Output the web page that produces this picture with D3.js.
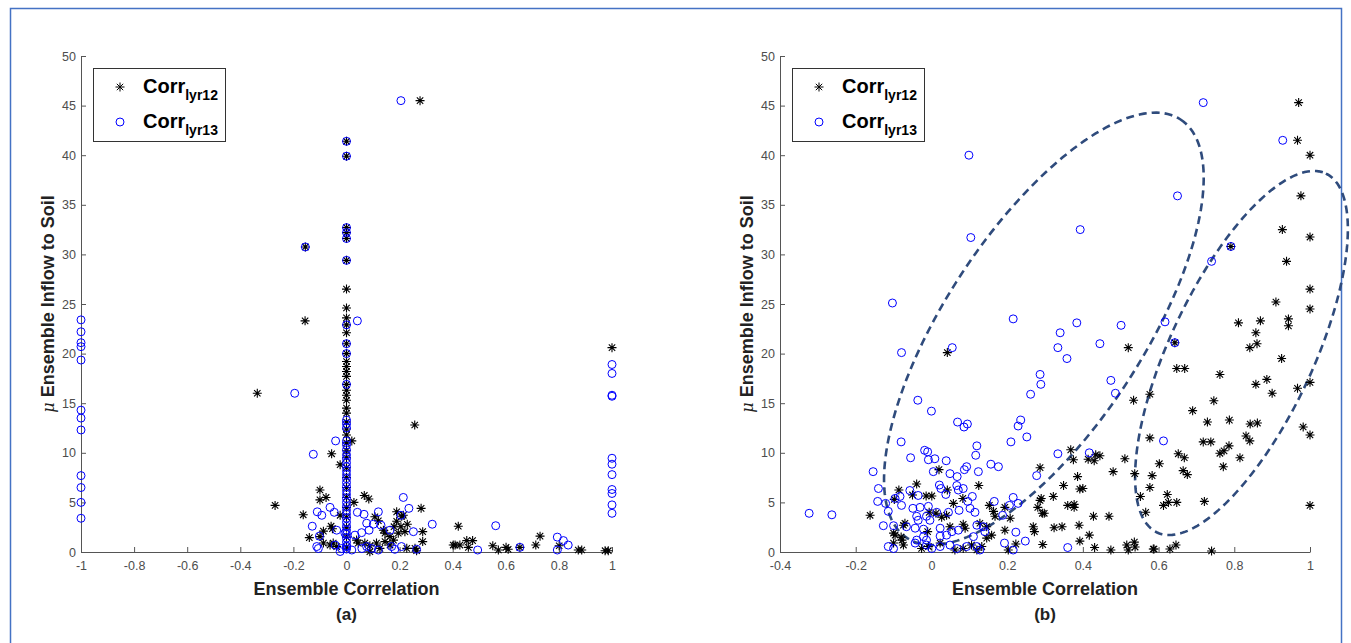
<!DOCTYPE html>
<html>
<head>
<meta charset="utf-8">
<script src="https://cdn.jsdelivr.net/npm/d3@7"></script>
<style>
  body { margin: 0; background: #fff; }
  svg { display: block; font-family: "Liberation Sans", Arial, Helvetica, sans-serif; }
</style>
</head>
<body>
<div id="chart"></div>
<script>
// ---- data ----
const seriesNames = ['lyr12', 'lyr13'];
const panelLabels = ['(a)', '(b)'];
const xLabel = 'Ensemble Correlation';
const yLabel = ' Ensemble Inflow to Soil';
const yTicks = [0, 5, 10, 15, 20, 25, 30, 35, 40, 45, 50];
const xTicksA = [-1, -0.8, -0.6, -0.4, -0.2, 0, 0.2, 0.4, 0.6, 0.8, 1];
const xTicksB = [-0.4, -0.2, 0, 0.2, 0.4, 0.6, 0.8, 1];

// panel (a): columns of points sitting at corr = 0, -1, 1
const aZeroStarY = [41.4, 39.9, 32.7, 32.2, 31.6, 29.4, 26.5, 24.6, 23.6, 22.9, 22.1, 21.0, 20.0, 19.2,
  18.7, 18.2, 17.7, 16.9, 16.3, 15.8, 15.3, 14.5, 14.0, 13.1, 12.4, 11.8, 11.0, 10.2, 9.5, 8.5, 7.5,
  6.5, 5.5, 4.5, 3.5, 2.5, 1.5, 0.5];
const aZeroCircleY = [41.4, 39.9, 32.7, 32.2, 31.6, 29.4, 22.9, 21.0, 20.0, 16.9, 13.3, 12.9, 12.5,
  11.2, 10.8, 10.3, 9.8, 9.4, 9.0, 8.6, 8.2, 7.8, 7.4, 7.0, 6.6, 6.2, 5.8, 5.4, 5.0, 4.6, 4.2, 3.8,
  3.4, 3.0, 2.6, 2.2, 1.8, 1.4, 1.0, 0.6, 0.3];
const aMinusOneCircleY = [23.4, 22.2, 21.1, 20.7, 19.35, 14.3, 13.5, 12.3, 7.7, 6.5, 5.0, 3.4];
const aOneCircleY = [18.9, 18.0, 15.8, 15.7, 9.45, 8.85, 7.8, 6.3, 5.9, 4.75, 3.9];

const aStars = [[0.277, 45.5], [-0.155, 30.75], [-0.156, 23.3], [-0.336, 16.0], [0.257, 12.8],
  [-0.269, 4.7], [-0.056, 9.9], [-0.024, 8.8], [0.02, 11.2], [-0.1, 6.25], [-0.1, 5.25], [-0.077, 5.5],
  [0.067, 5.7], [0.084, 5.35], [0.028, 5.0], [0.281, 4.4], [-0.163, 3.75], [-0.024, 3.7], [0.107, 3.55],
  [0.12, 3.15], [0.189, 4.05], [0.208, 3.6], [0.214, 3.7], [0.189, 3.1], [0.229, 2.8], [0.205, 2.55],
  [0.179, 2.55], [-0.087, 2.1], [-0.058, 2.6], [-0.053, 2.35], [-0.14, 1.45], [-0.1, 1.55], [0.139, 2.2],
  [0.145, 1.9], [0.164, 1.55], [0.195, 1.9], [0.22, 2.05], [0.287, 2.05], [0.287, 1.05], [0.421, 2.6],
  [-0.087, 0.9], [-0.062, 0.7], [-0.05, 0.9], [-0.037, 0.55], [0.038, 1.2], [0.044, 0.9], [0.069, 0.9],
  [0.088, 0.63], [0.113, 0.9], [0.126, 0.37], [0.145, 1.05], [0.164, 0.7], [0.177, 1.2], [0.227, 0.37],
  [0.258, 0.37], [0.264, 0.13], [0.409, 0.7], [0.088, 0.03], [1.0, 20.6], [0.402, 0.7], [0.427, 0.7],
  [0.453, 1.15], [0.475, 1.15], [0.459, 0.47], [0.551, 0.63], [0.572, 0.2], [0.601, 0.47], [0.609, 0.27],
  [0.653, 0.47], [0.713, 0.7], [0.729, 1.6], [0.801, 0.63], [0.873, 0.2], [0.886, 0.2], [0.974, 0.13],
  [0.986, 0.13]];
const aCircles = [[0.205, 45.5], [-0.155, 30.75], [0.041, 23.3], [-0.195, 16.0], [-0.125, 9.85],
  [-0.041, 11.2], [0.214, 5.5], [0.235, 4.4], [-0.11, 4.05], [-0.093, 3.7], [-0.062, 4.5], [-0.046, 4.0],
  [0.041, 4.0], [0.066, 3.8], [0.12, 4.05], [0.076, 2.9], [0.101, 2.8], [0.13, 2.7], [0.085, 2.2],
  [0.205, 3.7], [0.323, 2.8], [-0.129, 2.6], [-0.102, 1.6], [-0.037, 2.2], [-0.006, 1.9], [0.032, 1.7],
  [0.057, 1.95], [0.164, 2.2], [0.252, 2.05], [-0.112, 0.55], [-0.106, 0.35], [-0.043, 0.7], [-0.018, 0.35],
  [0.001, 0.55], [0.02, 0.2], [0.058, 0.35], [0.076, 0.55], [0.095, 0.35], [0.12, 0.2], [0.17, 0.55],
  [0.182, 0.27], [0.207, 0.55], [0.264, 0.27], [-0.024, 0.05], [0.562, 2.65], [0.494, 0.2], [0.653, 0.47],
  [0.794, 1.5], [0.817, 1.15], [0.835, 0.7], [0.794, 0.2]];

// panel (b)
const bStars = [[0.97, 45.3], [0.967, 41.5], [1.0, 40.0], [0.976, 35.9], [0.927, 32.5], [1.0, 31.75],
  [0.791, 30.8], [0.938, 29.3], [1.0, 26.5], [1.0, 24.5], [0.91, 25.2], [0.811, 23.1], [0.869, 23.3],
  [0.943, 23.5], [0.943, 22.8], [0.857, 22.1], [0.86, 21.0], [0.841, 20.6], [0.643, 21.1], [0.925, 19.5],
  [0.648, 18.5], [0.669, 18.5], [0.762, 17.9], [0.857, 16.9], [0.886, 17.4], [0.9, 16.0], [0.967, 16.5],
  [1.0, 17.1], [0.577, 15.9], [0.746, 15.25], [0.69, 14.25], [0.729, 13.1], [0.787, 13.3], [0.842, 12.9],
  [0.861, 13.0], [0.982, 12.6], [1.0, 11.8], [0.831, 11.7], [0.841, 11.2], [0.718, 11.1], [0.738, 11.1],
  [0.577, 11.5], [0.762, 9.95], [0.773, 10.2], [0.786, 10.7], [0.771, 8.6], [0.815, 9.5], [0.652, 9.9],
  [0.668, 9.5], [0.602, 8.9], [0.665, 8.2], [0.676, 7.8], [0.583, 7.7], [0.577, 6.5], [0.623, 5.8],
  [0.613, 4.7], [0.626, 5.0], [0.648, 5.0], [0.721, 5.1], [1.0, 4.7], [0.588, 0.3], [0.63, 0.3],
  [0.646, 0.7], [0.74, 0.1], [0.534, 15.3], [0.368, 10.3], [0.434, 9.8], [0.445, 9.7], [0.43, 9.2],
  [0.414, 9.35], [0.375, 9.3], [0.511, 9.4], [0.287, 8.5], [0.48, 8.1], [0.537, 7.9], [0.386, 7.6],
  [0.349, 6.7], [0.392, 6.35], [0.4, 6.4], [0.552, 5.6], [0.322, 5.6], [0.29, 5.4], [0.287, 5.2],
  [0.36, 4.7], [0.377, 4.8], [0.377, 4.5], [0.281, 4.5], [0.293, 3.9], [0.298, 3.9], [0.194, 4.5],
  [0.208, 3.4], [0.566, 4.0], [0.428, 3.6], [0.469, 3.6], [0.39, 2.7], [0.324, 2.45], [0.345, 2.55],
  [0.269, 2.55], [0.272, 2.05], [0.194, 2.2], [0.417, 1.7], [0.392, 1.1], [0.223, 0.8], [0.294, 0.75],
  [0.431, 0.45], [0.474, 0.2], [0.516, 0.7], [0.52, 0.2], [0.536, 1.0], [0.538, 0.5], [0.586, 0.3],
  [0.203, 0.2], [0.042, 20.1], [0.52, 20.6], [0.02, 8.3], [-0.039, 6.85], [0.125, 6.7], [0.042, 6.25],
  [-0.086, 6.25], [-0.014, 5.65], [0.001, 5.65], [-0.098, 5.3], [-0.05, 5.75], [0.083, 5.4], [0.058, 4.9],
  [-0.162, 3.7], [-0.006, 4.0], [0.012, 3.9], [0.027, 3.5], [0.04, 3.7], [-0.07, 2.9], [-0.074, 2.7],
  [-0.1, 1.9], [-0.096, 1.7], [-0.08, 1.5], [-0.078, 1.2], [-0.01, 2.05], [0.049, 2.55], [0.084, 2.8],
  [0.089, 2.4], [0.128, 2.9], [0.146, 2.55], [0.159, 1.7], [0.146, 1.4], [-0.1, 0.9], [-0.074, 0.7],
  [-0.026, 0.35], [-0.008, 0.55], [0.023, 0.9], [0.062, 0.2], [0.084, 0.35], [0.106, 0.7], [0.12, 0.2],
  [0.133, 0.55], [0.153, 4.7], [0.164, 4.1], [0.168, 3.6]];
const bCircles = [[0.718, 45.3], [0.928, 41.5], [0.65, 35.9], [0.791, 30.8], [0.74, 29.3], [0.617, 23.2],
  [0.643, 21.1], [0.613, 11.2], [0.262, 15.9], [0.289, 16.9], [0.474, 17.3], [0.486, 16.0], [0.236, 13.3],
  [0.229, 12.7], [0.252, 11.6], [0.21, 11.1], [0.334, 9.9], [0.417, 10.0], [0.278, 7.7], [0.216, 5.5],
  [0.206, 4.7], [0.229, 4.9], [0.188, 3.7], [0.223, 2.0], [0.193, 0.9], [0.248, 1.1], [0.36, 0.45],
  [0.216, 0.2], [0.099, 40.0], [0.104, 31.7], [0.393, 32.5], [-0.103, 25.1], [0.216, 23.5], [0.34, 22.1],
  [0.384, 23.1], [0.501, 22.85], [0.334, 20.6], [0.445, 21.0], [0.358, 19.5], [0.287, 17.9], [-0.079, 20.1],
  [0.055, 20.6], [-0.036, 15.3], [0.0, 14.2], [0.069, 13.1], [0.095, 12.9], [0.086, 12.6], [-0.08, 11.1],
  [-0.018, 10.25], [-0.01, 10.1], [-0.055, 9.5], [-0.008, 9.3], [0.009, 9.4], [0.12, 10.7], [0.117, 9.75],
  [0.039, 9.2], [0.093, 8.6], [0.087, 8.3], [0.124, 8.1], [0.157, 8.85], [0.177, 8.6], [-0.154, 8.1],
  [0.005, 8.1], [0.049, 7.9], [0.068, 7.6], [-0.14, 6.4], [0.021, 6.75], [0.025, 6.4], [0.067, 6.7],
  [0.084, 6.4], [0.071, 6.25], [-0.057, 6.2], [-0.035, 5.7], [-0.083, 5.6], [-0.096, 5.4], [0.038, 5.8],
  [0.108, 5.6], [0.096, 5.1], [-0.142, 5.1], [-0.121, 4.9], [-0.079, 4.7], [-0.114, 4.1], [-0.049, 4.4],
  [-0.03, 4.5], [-0.008, 4.6], [0.014, 4.0], [0.045, 4.0], [0.073, 4.2], [0.102, 4.4], [0.115, 4.0],
  [-0.039, 3.6], [-0.013, 3.6], [-0.035, 3.2], [-0.004, 3.2], [-0.127, 2.65], [-0.1, 2.65], [-0.066, 2.55],
  [-0.043, 2.4], [-0.021, 2.3], [0.023, 2.4], [-0.021, 1.55], [-0.039, 1.2], [-0.013, 1.2], [0.023, 1.6],
  [0.04, 1.7], [0.054, 2.05], [0.071, 2.2], [0.12, 2.7], [0.137, 2.55], [0.141, 2.05], [0.111, 1.55],
  [-0.114, 0.55], [-0.1, 0.35], [-0.043, 0.9], [-0.013, 0.7], [0.001, 0.35], [0.023, 0.55], [0.049, 0.7],
  [0.067, 0.35], [0.093, 0.55], [0.12, 0.55], [0.128, 0.2], [0.166, 5.1], [-0.323, 3.9], [-0.263, 3.75]];

// the two dashed clusters in (b): centre and two conjugate half-axes, in data units
const bEllipses = [
  { cx: 0.297, cy: 22.5, ux: 0.361, uy: 21.1, vx: 0.219, vy: -5.45 },
  { cx: 0.819, cy: 20.06, ux: 0.223, uy: 18.09, vx: 0.171, vy: -3.08 }
];

// ---- drawing ----
const width = 1351, height = 643;
const starColor = '#000', circleColor = '#0000ff', ellipseColor = '#2f4b7c', axisColor = '#555';
const starPath = 'M-4.5,0H4.5M0,-4.5V4.5M-3.2,-3.2L3.2,3.2M-3.2,3.2L3.2,-3.2';
const circleR = 4;

const svg = d3.select('#chart').append('svg')
  .attr('width', width)
  .attr('height', height);

// outer frame
svg.append('rect')
  .attr('x', 10.5).attr('y', 8.5)
  .attr('width', 1331).attr('height', 700)
  .attr('fill', 'none')
  .attr('stroke', '#4472c4')
  .attr('stroke-width', 1.5);

const fmt = d => String(+d.toFixed(1));

function panel(opts){
  const x = d3.scaleLinear().domain(opts.xDomain).range(opts.xRange);
  const y = d3.scaleLinear().domain([0, 50]).range([552, 56]);
  const g = svg.append('g');

  const xAxis = g.append('g')
    .attr('transform', `translate(0,${y(0)})`)
    .call(d3.axisBottom(x).tickValues(opts.xTicks).tickFormat(fmt).tickSizeInner(-5).tickSizeOuter(0).tickPadding(9));
  const yAxis = g.append('g')
    .attr('transform', `translate(${x.range()[0]},0)`)
    .call(d3.axisLeft(y).tickValues(yTicks).tickFormat(fmt).tickSizeInner(-5).tickSizeOuter(0).tickPadding(5));
  [xAxis, yAxis].forEach(a => {
    a.selectAll('path, line').attr('stroke', axisColor);
    a.selectAll('text').attr('fill', '#4d4d4d').style('font-size', '12.5px')
      .style('font-family', '"Liberation Sans", Arial, sans-serif');
  });

  // ellipses (drawn under the markers)
  const line = d3.line().curve(d3.curveLinearClosed).x(p => x(p[0])).y(p => y(p[1]));
  g.selectAll('.ellipse')
    .data(opts.ellipses || [])
    .enter().append('path')
      .attr('class', 'ellipse')
      .attr('d', e => line(d3.range(0, 360, 2).map(a => {
        const t = a * Math.PI / 180;
        return [e.cx + e.ux * Math.cos(t) + e.vx * Math.sin(t), e.cy + e.uy * Math.cos(t) + e.vy * Math.sin(t)];
      })))
      .attr('fill', 'none')
      .attr('stroke', ellipseColor)
      .attr('stroke-width', 2.6)
      .attr('stroke-dasharray', '8,5');

  g.append('g').selectAll('path')
    .data(opts.stars)
    .enter().append('path')
      .attr('d', starPath)
      .attr('transform', d => `translate(${x(d[0])},${y(d[1])})`)
      .attr('stroke', starColor)
      .attr('stroke-width', 1.1)
      .attr('fill', 'none');

  g.append('g').selectAll('circle')
    .data(opts.circles)
    .enter().append('circle')
      .attr('cx', d => x(d[0]))
      .attr('cy', d => y(d[1]))
      .attr('r', circleR)
      .attr('fill', 'none')
      .attr('stroke', circleColor)
      .attr('stroke-width', 1);

  const x0 = x.range()[0], xm = (x.range()[0] + x.range()[1]) / 2, ym = (y(0) + y(50)) / 2;

  // axis titles
  g.append('text')
    .attr('x', xm).attr('y', 595)
    .attr('text-anchor', 'middle')
    .style('font-size', '18px').style('font-weight', 'bold').attr('fill', '#222')
    .text(xLabel);
  g.append('text')
    .attr('x', xm).attr('y', 620)
    .attr('text-anchor', 'middle')
    .style('font-size', '17px').style('font-weight', 'bold').attr('fill', '#222')
    .text(opts.label);
  const yt = g.append('text')
    .attr('transform', `translate(${x0 - 27},${ym}) rotate(-90)`)
    .attr('text-anchor', 'middle')
    .style('font-size', '18px').attr('fill', '#222');
  yt.append('tspan').style('font-style', 'italic').style('font-family', '"DejaVu Serif", serif').style('font-size', '16px').text('\u03bc');
  yt.append('tspan').style('font-weight', 'bold').text(yLabel);

  // legend
  const lg = g.append('g').attr('transform', `translate(${x0 + 12},68)`);
  lg.append('rect')
    .attr('x', 0.5).attr('y', 0.5).attr('width', 132).attr('height', 73)
    .attr('fill', '#fff').attr('stroke', '#333').attr('stroke-width', 1);
  seriesNames.forEach((name, i) => {
    const row = lg.append('g').attr('transform', `translate(0,${19 + i * 35})`);
    if (i === 0){
      row.append('path').attr('d', starPath).attr('transform', 'translate(27,0)')
        .attr('stroke', starColor).attr('fill', 'none');
    } else {
      row.append('circle').attr('cx', 27).attr('cy', 0).attr('r', circleR)
        .attr('stroke', circleColor).attr('fill', 'none');
    }
    const t = row.append('text').attr('x', 50).attr('y', 6)
      .style('font-weight', 'bold').attr('fill', '#000');
    t.append('tspan').style('font-size', '20px').text('Corr');
    t.append('tspan').attr('dy', 7).style('font-size', '14px').text(name);
  });
}

panel({
  xDomain: [-1, 1], xRange: [81, 612], xTicks: xTicksA, label: panelLabels[0],
  stars: aStars
    .concat(aZeroStarY.map(v => [0, v])),
  circles: aCircles
    .concat(aZeroCircleY.map(v => [0, v]))
    .concat(aMinusOneCircleY.map(v => [-1, v]))
    .concat(aOneCircleY.map(v => [1, v]))
});

panel({
  xDomain: [-0.4, 1], xRange: [780, 1310], xTicks: xTicksB, label: panelLabels[1],
  stars: bStars, circles: bCircles, ellipses: bEllipses
});
</script>
</body>
</html>
